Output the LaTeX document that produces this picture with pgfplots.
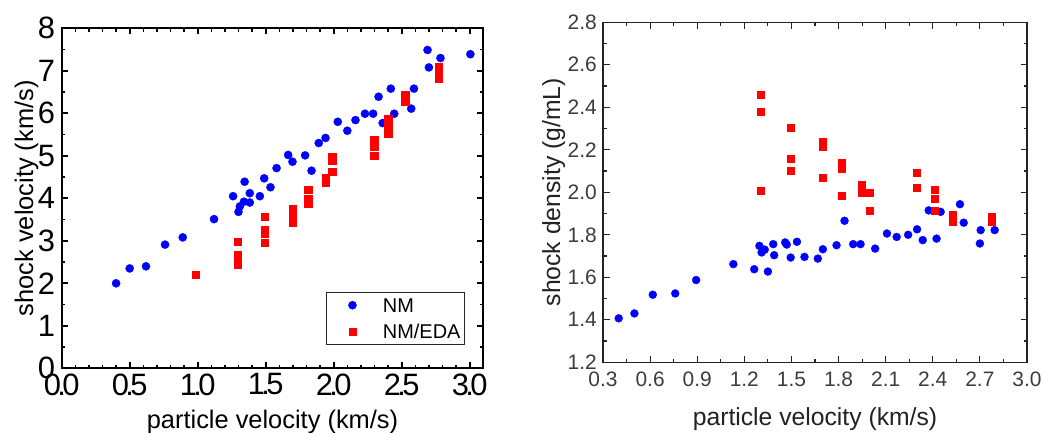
\documentclass[border=0pt]{standalone}
\usepackage{fontspec}
\setmainfont{Liberation Sans}
\usepackage{pgfplots}
\pgfplotsset{compat=1.18}

\definecolor{nmblue}{RGB}{0,0,255}
\definecolor{edared}{RGB}{255,0,0}
\definecolor{rtick}{RGB}{60,60,60}
\definecolor{rlabel}{RGB}{34,34,34}

% tight decimal point for the left panel's tick numbers
\newcommand\td{\kern-0.12em.\kern-0.12em}

% shock velocity vs particle velocity, neat NM
\pgfplotstableread{
up    Us
0.40  2.00
0.50  2.35
0.62  2.40
0.76  2.91
0.89  3.08
1.12  3.51
1.26  4.05
1.30  3.68
1.31  3.81
1.345 4.39
1.34  3.92
1.383 4.12
1.383 3.90
1.457 4.05
1.489 4.47
1.535 4.26
1.58  4.71
1.665 5.02
1.697 4.86
1.79  5.01
1.837 4.65
1.89  5.30
1.94  5.42
2.03  5.80
2.10  5.59
2.16  5.84
2.23  5.99
2.29  5.99
2.33  6.39
2.36  5.77
2.42  6.58
2.445 5.99
2.57  6.11
2.59  6.58
2.69  7.49
2.70  7.08
2.785 7.30
3.005 7.39
}\nmUs

% shock velocity vs particle velocity, NM/EDA
\pgfplotstableread{
up    Us
0.987 2.20
1.293 2.99
1.293 2.68
1.293 2.55
1.293 2.44
1.494 3.56
1.494 3.27
1.494 3.16
1.494 2.95
1.697 3.76
1.697 3.60
1.697 3.44
1.812 4.21
1.812 3.98
1.812 3.87
1.940 4.49
1.940 4.36
1.988 4.98
1.988 4.89
1.988 4.63
2.297 5.38
2.297 5.22
2.297 5.01
2.400 5.88
2.400 5.69
2.400 5.53
2.525 6.43
2.525 6.28
2.774 7.09
2.774 6.96
2.774 6.83
}\edaUs

% shock density vs particle velocity, neat NM
\pgfplotstableread{
up    rho
0.40  1.407
0.50  1.430
0.617 1.518
0.76  1.524
0.893 1.587
1.13  1.662
1.263 1.638
1.296 1.748
1.31  1.717
1.33  1.730
1.35  1.627
1.384 1.756
1.39  1.704
1.46  1.764
1.47  1.754
1.495 1.693
1.535 1.767
1.583 1.696
1.668 1.688
1.70  1.732
1.787 1.751
1.838 1.866
1.893 1.756
1.94  1.756
2.033 1.735
2.108 1.806
2.17  1.790
2.243 1.800
2.30  1.826
2.336 1.775
2.374 1.915
2.424 1.782
2.45  1.908
2.573 1.944
2.597 1.857
2.70  1.759
2.705 1.822
2.794 1.822
3.005 1.900
}\nmRho

% shock density vs particle velocity, NM/EDA
\pgfplotstableread{
up    rho
1.302 2.459
1.302 2.380
1.302 2.007
1.497 2.306
1.497 2.160
1.497 2.100
1.699 2.237
1.699 2.215
1.699 2.070
1.820 2.140
1.820 2.110
1.820 1.986
1.948 2.038
1.948 2.018
1.948 1.999
1.996 1.999
1.996 1.912
2.298 2.094
2.298 2.023
2.410 2.011
2.410 1.972
2.410 1.912
2.527 1.897
2.527 1.877
2.527 1.862
2.776 1.884
2.776 1.862
}\edaRho

\begin{document}
\begin{tikzpicture}
\useasboundingbox (0,0) rectangle (1044bp,433bp);

% ---------------- left panel: shock velocity ----------------
\begin{axis}[
  at={(61.7bp,64.7bp)}, anchor=south west,
  scale only axis, width=421.6bp, height=340bp,
  xmin=0, xmax=3.1, ymin=0, ymax=8,
  xtick={0,0.5,1,1.5,2,2.5,3}, minor x tick num=4,
  ytick={0,1,2,3,4,5,6,7,8}, minor y tick num=1,
  xticklabels={0\td0,0\td5,1\td0,1\td5,2\td0,2\td5,3\td0},
  yticklabels={0,1,2,3,4,5,6,7,8},
  tick align=inside, tick pos=both,
  axis line style={line width=2.2bp, black},
  tick style={line width=1.6bp, black},
  major tick length=6bp, minor tick length=3.5bp,
  xticklabel style={font=\fontsize{31}{31}\selectfont, inner sep=0pt, anchor=north, yshift=-5bp},
  yticklabel style={font=\fontsize{31}{31}\selectfont, inner sep=0pt, anchor=east, xshift=-6.4bp},
  xlabel={particle velocity (km/s)},
  ylabel={shock velocity (km/s)},
  xlabel style={font=\fontsize{25.5}{25.5}\selectfont, inner sep=0pt, at={(axis description cs:0.5,0)}, anchor=base, yshift=-59.7bp},
  ylabel style={font=\fontsize{25.5}{25.5}\selectfont, inner sep=0pt, at={(axis description cs:-0.068,0.5)}, anchor=base},
  legend style={
    at={(axis description cs:0.628,0.2257)}, anchor=north west,
    draw=black!85, line width=1bp, fill=white,
    inner xsep=4bp, inner ysep=6bp,
    row sep=11.7bp, column sep=10bp,
    font=\fontsize{20}{20}\selectfont,
    nodes={inner sep=0pt, text height=14.3bp, text depth=0bp},
  },
  legend cell align=left,
  legend image code/.code={\path (0bp,0bp) (41bp,0bp); \draw[#1] plot coordinates {(21bp,0bp)};},
]
\addplot[only marks, mark=*, mark size=4.1bp, mark options={fill=nmblue, draw=nmblue, line width=0.3bp}]
  table[x=up, y=Us] {\nmUs};
\addlegendentry{NM}
\addplot[only marks, mark=square*, mark size=3.6bp, mark options={fill=edared, draw=edared, line width=0.2bp}]
  table[x=up, y=Us] {\edaUs};
\addlegendentry{NM/EDA}
\end{axis}

% ---------------- right panel: shock density ----------------
\begin{axis}[
  at={(603bp,70.7bp)}, anchor=south west,
  scale only axis, width=424bp, height=340bp,
  xmin=0.3, xmax=3.0, ymin=1.2, ymax=2.8,
  clip marker paths=true,
  xtick={0.3,0.6,0.9,1.2,1.5,1.8,2.1,2.4,2.7,3.0}, minor x tick num=1,
  ytick={1.2,1.4,1.6,1.8,2.0,2.2,2.4,2.6,2.8}, minor y tick num=1,
  xticklabels={0.3,0.6,0.9,1.2,1.5,1.8,2.1,2.4,2.7,3.0},
  yticklabels={1.2,1.4,1.6,1.8,2.0,2.2,2.4,2.6,2.8},
  tick align=inside, tick pos=both,
  axis line style={line width=1.3bp, rlabel},
  tick style={line width=1.2bp, rlabel},
  major tick length=6.5bp, minor tick length=3.5bp,
  xticklabel style={font=\fontsize{21}{21}\selectfont, text=rtick, inner sep=0pt, anchor=north, yshift=-9.5bp},
  yticklabel style={font=\fontsize{21}{21}\selectfont, text=rtick, inner sep=0pt, anchor=east, xshift=-6bp},
  xlabel={particle velocity (km/s)},
  ylabel={shock density (g/mL)},
  xlabel style={font=\fontsize{24.8}{24.8}\selectfont, text=rlabel, inner sep=0pt, at={(axis description cs:0.5,0)}, anchor=base, yshift=-62.7bp},
  ylabel style={font=\fontsize{24.8}{24.8}\selectfont, text=rlabel, inner sep=0pt, at={(axis description cs:-0.101,0.5)}, anchor=base},
]
\addplot[only marks, mark=*, mark size=4bp, mark options={fill=nmblue, draw=nmblue, line width=0.3bp}]
  table[x=up, y=rho] {\nmRho};
\addplot[only marks, mark=square*, mark size=3.5bp, mark options={fill=edared, draw=edared, line width=0.2bp}]
  table[x=up, y=rho] {\edaRho};
\end{axis}
\end{tikzpicture}
\end{document}
